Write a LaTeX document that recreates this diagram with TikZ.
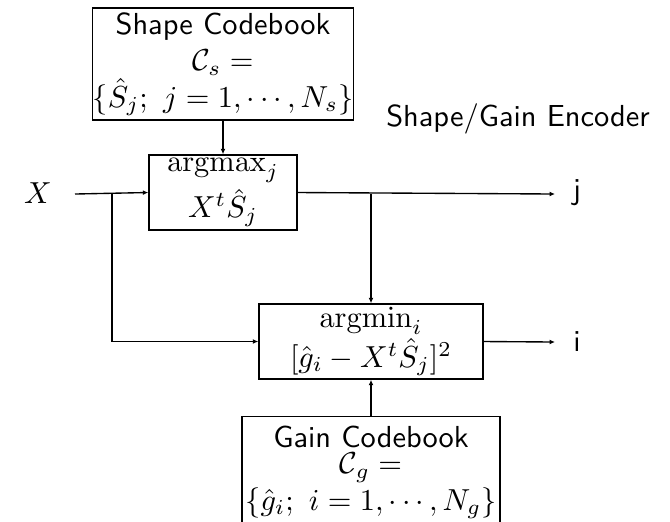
\documentclass[tikz,border=0pt]{standalone}
\usetikzlibrary{arrows.meta}
\begin{document}
\begin{tikzpicture}[x=0.329pt,y=-0.329pt,
  box/.style={draw,line width=0.45pt,inner sep=0pt,align=center},
  arr/.style={-{Latex[length=1.8pt,width=1.6pt]},line width=0.45pt}]
\useasboundingbox (0,0) rectangle (670,521);
\clip (0,0) rectangle (670,521);
\node[box,minimum width=85.5pt,minimum height=36.8pt] (shape) at (223,64)
  {\sffamily Shape Codebook\\ $\mathcal{C}_s =$\\ $\{\hat{S}_j;\ j=1,\cdots,N_s\}$};
\node[box,minimum width=48.7pt,minimum height=24.7pt] (amax) at (223,192.5)
  {$\mathrm{argmax}_j$\\[1pt] $X^t\hat{S}_j$};
\node[box,minimum width=73.7pt,minimum height=24.7pt] (amin) at (371,341.5)
  {$\mathrm{argmin}_i$\\[1pt] $[\hat{g}_i-X^t\hat{S}_j]^2$};
\node[box,minimum width=84.9pt,minimum height=36.8pt,anchor=north] (gain) at (371,416)
  {\sffamily Gain Codebook\\[-3.5pt] $\mathcal{C}_g =$\\ $\{\hat{g}_i;\ i=1,\cdots,N_g\}$};
\node (X) at (38,193) {$X$};
\node (jl) at (577,193) {\sffamily j};
\node (il) at (577,342) {\sffamily i};
\node (enc) at (518,119) {\sffamily Shape/Gain Encoder};
\coordinate (xin) at (75,194);
\coordinate (b1) at (112,194);
\coordinate (b2) at (371,194);
\coordinate (jend) at (555,194);
\coordinate (iend) at (555,342);
\draw[arr] (shape.south) -- (amax.north);
\draw[arr] (xin) -- (amax.west);
\draw[arr] (b1) |- (amin.west);
\draw[arr] (amax.east) -- (jend);
\draw[arr] (b2) -- (amin.north);
\draw[arr] (amin.east) -- (iend);
\draw[arr] (gain.north) -- (amin.south);
\end{tikzpicture}
\end{document}
